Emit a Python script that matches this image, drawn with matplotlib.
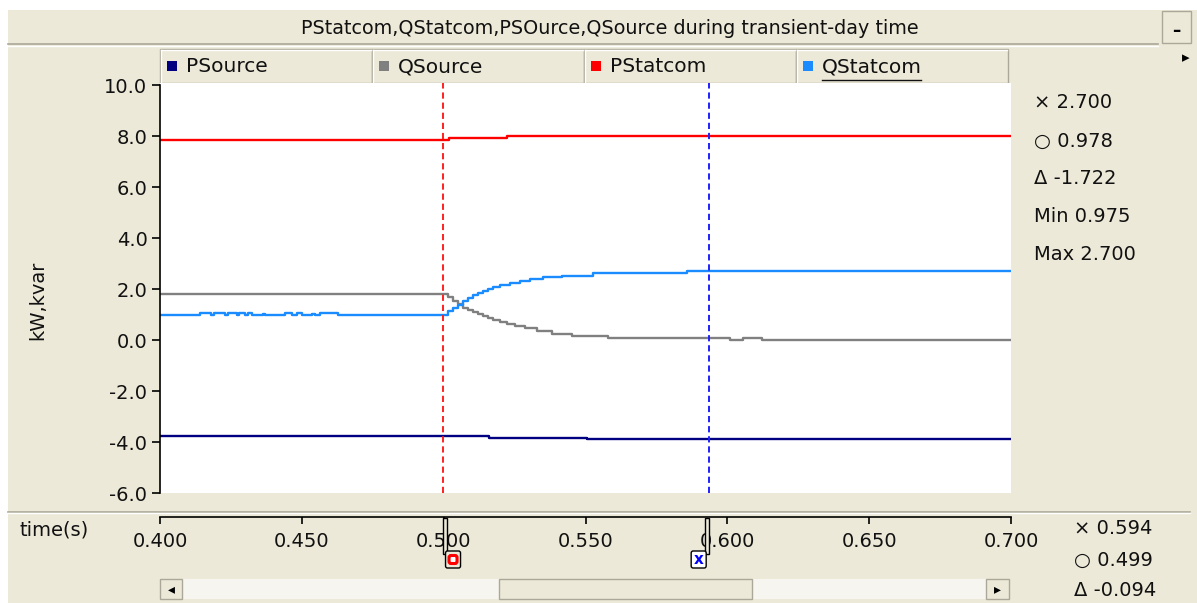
import matplotlib
matplotlib.use('Agg')
import matplotlib.pyplot as plt
import numpy as np
from matplotlib.patches import Rectangle, FancyBboxPatch

W, H = 1197, 603
BG = '#ECE9D8'
EDGE = '#ACA899'
FONT = ['DejaVu Sans']

# ---- data ----
series_names = ['PSource', 'QSource', 'PStatcom', 'QStatcom']
series_colors = ['#000080', '#808080', '#FF0000', '#1A8CFF']

t_psource = [0.400, 0.5161, 0.5504, 0.700]
psource = [-3.76, -3.83, -3.90, -3.90]

t_pstatcom = [0.400, 0.5020, 0.5224, 0.700]
pstatcom = [7.85, 7.93, 8.00, 8.00]

t_qsource = [0.400, 0.4999, 0.5016, 0.5034, 0.5052, 0.5069, 0.5087, 0.5104, 0.5122,
             0.5140, 0.5157, 0.5175, 0.5199, 0.5222, 0.5252, 0.5287, 0.5328, 0.5381,
             0.5452, 0.5581, 0.6009, 0.6056, 0.6121, 0.700]
qsource = [1.80, 1.80, 1.67, 1.54, 1.40, 1.27, 1.17, 1.08, 1.01,
           0.93, 0.87, 0.80, 0.72, 0.64, 0.55, 0.46, 0.35, 0.25,
           0.16, 0.07, 0.00, 0.06, 0.00, 0.00]

t_qstatcom = [0.400, 0.4141, 0.4180, 0.4190, 0.4230, 0.4240, 0.4270, 0.4280, 0.4300,
              0.4310, 0.4323, 0.4363, 0.4370, 0.4441, 0.4464, 0.4482, 0.4500, 0.4535,
              0.4546, 0.4564, 0.4629, 0.4999, 0.5016, 0.5034, 0.5052, 0.5069, 0.5087,
              0.5104, 0.5122, 0.5140, 0.5157, 0.5175, 0.5199, 0.5234, 0.5269, 0.5304,
              0.5351, 0.5416, 0.5528, 0.5857, 0.700]
qstatcom = [0.978, 1.04, 0.99, 1.04, 0.99, 1.04, 0.99, 1.04, 0.99,
            1.04, 0.978, 1.01, 0.978, 1.04, 0.978, 1.04, 0.978, 1.02,
            0.978, 1.04, 0.978, 0.978, 1.13, 1.26, 1.39, 1.52, 1.65,
            1.77, 1.86, 1.94, 2.02, 2.09, 2.15, 2.24, 2.31, 2.40,
            2.47, 2.53, 2.62, 2.70, 2.70]

cursor_o = 0.4996
cursor_x = 0.5936
y_ticks = [-6.0, -4.0, -2.0, 0.0, 2.0, 4.0, 6.0, 8.0, 10.0]
x_ticks = [0.400, 0.450, 0.500, 0.550, 0.600, 0.650, 0.700]
y_readout = ['\u00d7 2.700', '\u25cb 0.978', '\u0394 -1.722', 'Min 0.975', 'Max 2.700']
x_readout = ['\u00d7 0.594', '\u25cb 0.499', '\u0394 -0.094']


def pix(x0, y0, x1, y1):
    # pixel box (top-left origin) -> figure fraction
    return [x0 / W, 1 - y1 / H, (x1 - x0) / W, (y1 - y0) / H]


fig = plt.figure(figsize=(W / 100, H / 100), dpi=100, facecolor='white')

# background canvas in pixel coordinates
bg = fig.add_axes([0, 0, 1, 1], zorder=0)
bg.set_xlim(0, W)
bg.set_ylim(H, 0)
bg.axis('off')
bg.add_patch(Rectangle((8, 10), W - 8, H - 10, facecolor=BG, edgecolor='none'))

# title bar
bg.plot([8, 1158], [44, 44], color=EDGE, lw=1.2)
bg.plot([8, 1158], [45.5, 45.5], color='white', lw=1)
bg.text(610, 28, 'PStatcom,QStatcom,PSOurce,QSource during transient-day time',
        ha='center', va='center', fontsize=13.8, family=FONT, color='#111111')
bg.add_patch(Rectangle((1162, 11), 29, 32, facecolor=BG, edgecolor=EDGE, lw=1))
bg.text(1176.5, 31, '\u2013', ha='center', va='center', fontsize=12, family=FONT,
        fontweight='bold')
bg.text(1186, 58, '\u25b8', ha='center', va='center', fontsize=11, family=FONT)

# legend cells
cell_edges = [160, 372, 584, 796, 1008]
for i, name in enumerate(series_names):
    x0, x1 = cell_edges[i], cell_edges[i + 1]
    bg.add_patch(Rectangle((x0, 49), x1 - x0, 34, facecolor=BG, edgecolor=EDGE, lw=1))
    bg.plot([x0 + 1, x1 - 1], [50, 50], color='white', lw=1)
    bg.plot([x0 + 1, x0 + 1], [50, 82], color='white', lw=1)
    bg.add_patch(Rectangle((x0 + 7, 61), 10, 10, facecolor=series_colors[i],
                           edgecolor='none'))
    bg.text(x0 + 26, 67, name, ha='left', va='center', fontsize=14.5, family=FONT,
            color='#111111')
# underline under active series
bg.plot([822, 921], [80, 80], color='#111111', lw=1)

# y label
bg.text(38, 300, 'kW,kvar', rotation=90, ha='center', va='center', fontsize=14,
        family=FONT, color='#111111')

# y readouts
for i, s in enumerate(y_readout):
    bg.text(1034, 103 + i * 38, s, ha='left', va='center', fontsize=14, family=FONT,
            color='#111111')

# separator between plot and time axis
bg.plot([8, 1190], [511.5, 511.5], color=EDGE, lw=1.2)
bg.plot([8, 1190], [513, 513], color='white', lw=1)

bg.text(20, 530, 'time(s)', ha='left', va='center', fontsize=14, family=FONT,
        color='#111111')
for i, s in enumerate(x_readout):
    bg.text(1074, 529 + i * 31, s, ha='left', va='center', fontsize=14, family=FONT,
            color='#111111')

# scrollbar
bg.add_patch(Rectangle((182, 579), 804, 20, facecolor='#F6F5EF', edgecolor='none',
                       hatch='....', lw=0))
bg.add_patch(Rectangle((160, 579), 22, 20, facecolor=BG, edgecolor=EDGE, lw=1))
bg.add_patch(Rectangle((986, 579), 23, 20, facecolor=BG, edgecolor=EDGE, lw=1))
bg.add_patch(Rectangle((499, 579), 253, 20, facecolor=BG, edgecolor=EDGE, lw=1))
bg.text(171, 589, '\u25c2', ha='center', va='center', fontsize=10, family=FONT)
bg.text(997.5, 589, '\u25b8', ha='center', va='center', fontsize=10, family=FONT)

# ---- main plot ----
ax = fig.add_axes(pix(160, 83, 1011, 493), zorder=2)
ax.set_facecolor('white')
for t, v, c in [(t_psource, psource, series_colors[0]),
                (t_qsource, qsource, series_colors[1]),
                (t_pstatcom, pstatcom, series_colors[2]),
                (t_qstatcom, qstatcom, series_colors[3])]:
    ax.step(t, v, where='post', color=c, lw=1.7)
ax.axvline(cursor_o, color='#FF2020', lw=1.4, ls=(0, (3.2, 2.0)))
ax.axvline(cursor_x, color='#2020FF', lw=1.4, ls=(0, (3.2, 2.0)))
ax.set_xlim(0.4, 0.7)
ax.set_ylim(-6, 10.08)
for s in ['top', 'right', 'bottom']:
    ax.spines[s].set_visible(False)
ax.spines['left'].set_bounds(-6, 10)
ax.spines['left'].set_linewidth(1.2)
ax.set_xticks([])
ax.set_yticks(y_ticks)
ax.set_yticklabels([f'{v:.1f}' for v in y_ticks], family=FONT)
ax.tick_params(axis='y', direction='out', length=6, width=1.2, labelsize=14,
               pad=3, labelcolor='#111111')

# ---- time axis ----
axt = fig.add_axes(pix(160, 516, 1011, 517), zorder=2)
axt.patch.set_visible(False)
for s in ['top', 'right', 'left']:
    axt.spines[s].set_visible(False)
axt.spines['bottom'].set_linewidth(1.2)
axt.set_xlim(0.4, 0.7)
axt.set_yticks([])
axt.set_xticks(x_ticks)
axt.set_xticklabels([f'{v:.3f}' for v in x_ticks], family=FONT)
axt.tick_params(axis='x', direction='out', length=5, width=1.2, labelsize=14,
                pad=6, labelcolor='#111111')

# ---- cursor tabs (foreground) ----
fg = fig.add_axes([0, 0, 1, 1], zorder=5)
fg.set_xlim(0, W)
fg.set_ylim(H, 0)
fg.axis('off')
xo = 160 + (cursor_o - 0.4) / 0.3 * 851
xx = 160 + (cursor_x - 0.4) / 0.3 * 851
fg.add_patch(Rectangle((xo, 518), 4, 36, facecolor=BG, edgecolor='black', lw=1))
fg.add_patch(FancyBboxPatch((xo + 3, 551), 15, 17, boxstyle='round,pad=0,rounding_size=2',
                            facecolor=BG, edgecolor='black', lw=1))
fg.add_patch(FancyBboxPatch((xo + 6.5, 555.5), 8, 8, boxstyle='round,pad=0,rounding_size=2',
                            facecolor='white', edgecolor='red', lw=2.2))
fg.add_patch(Rectangle((xx - 4, 518), 4, 36, facecolor=BG, edgecolor='black', lw=1))
fg.add_patch(FancyBboxPatch((xx - 18, 551), 15, 17, boxstyle='round,pad=0,rounding_size=2',
                            facecolor='white', edgecolor='black', lw=1))
fg.text(xx - 10.5, 560, 'x', ha='center', va='center', fontsize=11, fontweight='bold',
        color='blue', family=FONT)

fig.savefig('out.png', dpi=100, facecolor=fig.get_facecolor())
